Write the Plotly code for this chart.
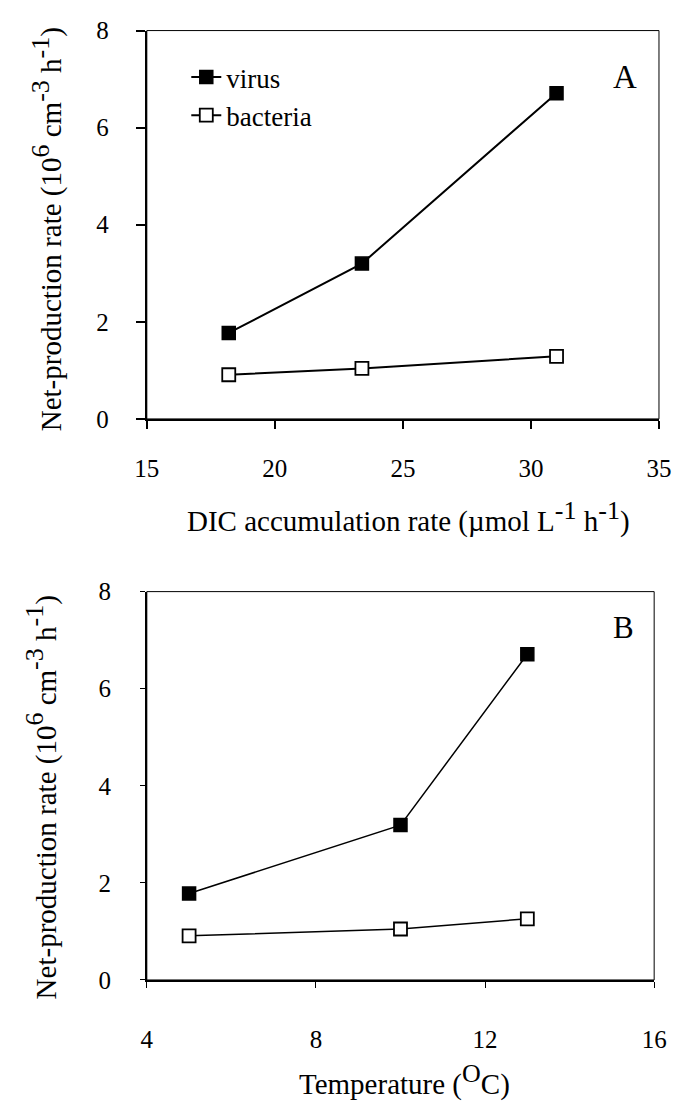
import plotly.graph_objects as go

# ---- data ----
dic_rate = [18.2, 23.4, 31.0]          # umol L-1 h-1
temperature = [5.0, 10.0, 13.0]        # deg C
virus_a = [1.77, 3.2, 6.71]
bacteria_a = [0.91, 1.04, 1.29]
virus_b = [1.78, 3.19, 6.71]
bacteria_b = [0.91, 1.05, 1.26]

x_ticks_a = [15, 20, 25, 30, 35]
x_ticks_b = [4, 8, 12, 16]
y_ticks = [0, 2, 4, 6, 8]

W, H = 697, 1113
FONT = "Liberation Serif"
TITLE_SIZE = 29
SUP = '<sup><span style="font-size:26px">{}</span></sup>'


def px(x):
    return x / W


def py(y):
    return 1 - y / H


fig = go.Figure()

vir_marker = dict(symbol="square", size=13, color="black", line=dict(color="black", width=1.5))
bac_marker = dict(symbol="square", size=13, color="white", line=dict(color="black", width=1.8))

fig.add_trace(go.Scatter(x=dic_rate, y=virus_a, mode="lines+markers", name="virus",
                         line=dict(color="black", width=2), marker=vir_marker,
                         xaxis="x", yaxis="y"))
fig.add_trace(go.Scatter(x=dic_rate, y=bacteria_a, mode="lines+markers", name="bacteria",
                         line=dict(color="black", width=2), marker=bac_marker,
                         xaxis="x", yaxis="y"))
fig.add_trace(go.Scatter(x=temperature, y=virus_b, mode="lines+markers", name="virus",
                         line=dict(color="black", width=1.5), marker=vir_marker,
                         showlegend=False, xaxis="x2", yaxis="y2"))
fig.add_trace(go.Scatter(x=temperature, y=bacteria_b, mode="lines+markers", name="bacteria",
                         line=dict(color="black", width=1.5), marker=bac_marker,
                         showlegend=False, xaxis="x2", yaxis="y2"))

axis_common = dict(showgrid=False, zeroline=False, showline=True, linecolor="black",
                   ticks="outside", tickcolor="black",
                   tickfont=dict(family=FONT, size=25, color="black"))

fig.update_layout(
    width=W, height=H,
    margin=dict(l=0, r=0, t=0, b=0),
    paper_bgcolor="white", plot_bgcolor="white",
    font=dict(family=FONT, size=TITLE_SIZE, color="black"),
    showlegend=True,
    legend=dict(x=px(180), y=py(41), xanchor="left", yanchor="top",
                bgcolor="rgba(0,0,0,0)", font=dict(family=FONT, size=27),
                tracegroupgap=0),
    xaxis=dict(domain=[px(139), px(671)], range=[15, 35], tickvals=x_ticks_a,
               anchor="y", linewidth=2, ticklen=8, tickwidth=1.5,
               ticklabelstandoff=18, **axis_common),
    yaxis=dict(domain=[py(416), py(18)], range=[0, 8], tickvals=y_ticks,
               anchor="x", linewidth=2, ticklen=9, tickwidth=1.5,
               ticklabelstandoff=22, **axis_common),
    xaxis2=dict(domain=[px(139), px(666)], range=[4, 16], tickvals=x_ticks_b,
                anchor="y2", linewidth=1.5, ticklen=6, tickwidth=1.2,
                ticklabelstandoff=30, **axis_common),
    yaxis2=dict(domain=[py(991), py(593)], range=[0, 8], tickvals=y_ticks,
                anchor="x2", linewidth=1.5, ticklen=5, tickwidth=1.2,
                ticklabelstandoff=24, **axis_common),
)

# plot frames (thin top/right borders)
for xr, yr in (("x domain", "y domain"), ("x2 domain", "y2 domain")):
    fig.add_shape(type="rect", xref=xr, yref=yr, x0=0, x1=1, y0=0, y1=1,
                  line=dict(color="black", width=1), layer="below")

ytitle = ("Net-production rate (10" + SUP.format("6") + " cm" + SUP.format("-3")
          + " h" + SUP.format("-1") + ")")
ann = [
    dict(text="DIC accumulation rate (\u00b5mol L" + SUP.format("-1") + " h" + SUP.format("-1") + ")",
         x=px(411), y=py(517), textangle=0),
    dict(text="Temperature (" + SUP.format("O") + "C)", x=px(407), y=py(1094), textangle=0),
    dict(text=ytitle, x=px(35), y=py(222), textangle=-90),
    dict(text=ytitle, x=px(30), y=py(804), textangle=-90),
]
for a in ann:
    fig.add_annotation(xref="paper", yref="paper", showarrow=False,
                       xanchor="center", yanchor="middle",
                       font=dict(family=FONT, size=TITLE_SIZE, color="black"), **a)

# panel labels
fig.add_annotation(text="A", xref="paper", yref="paper", x=px(636), y=py(66),
                   showarrow=False, xanchor="center", yanchor="middle",
                   font=dict(family=FONT, size=33, color="black"))
fig.add_annotation(text="B", xref="paper", yref="paper", x=px(634), y=py(630),
                   showarrow=False, xanchor="center", yanchor="middle",
                   font=dict(family=FONT, size=31, color="black"))

fig.write_html("out.html",
               config={"displayModeBar": False},
               post_script="document.body.style.margin='0';"
                           "document.body.style.overflow='hidden';")
